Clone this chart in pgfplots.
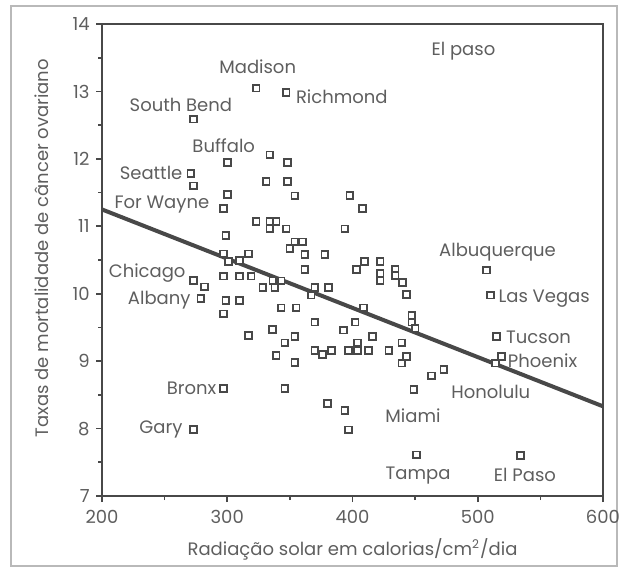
\documentclass[border=0pt]{standalone}
\usepackage{fontspec}
\setmainfont{Poppins}
\usepackage{pgfplots}
\pgfplotsset{compat=1.18}
\definecolor{txt}{HTML}{5E5E5E}
\definecolor{ink}{HTML}{484848}
\begin{document}
\fontsize{9pt}{11pt}\selectfont
\begin{tikzpicture}
\useasboundingbox (0pt,0pt) rectangle (312pt,284.5pt);
\draw[gray!55, line width=0.6pt] (5.5pt,1.5pt) rectangle (308.5pt,281.5pt);
\begin{axis}[
  at={(51pt,36.5pt)}, anchor=south west,
  width=250.5pt, height=236pt, scale only axis,
  xmin=200, xmax=600, ymin=7, ymax=14,
  xtick={200,300,...,600}, minor xtick={250,350,450,550},
  ytick={7,...,14}, minor ytick={7.5,8.5,...,13.5},
  tick pos=left, tick align=outside,
  major tick length=3pt, minor tick length=2pt,
  every tick/.style={ink, line width=0.8pt},
  axis line style={ink, line width=1pt},
  ticklabel style={font=\fontsize{9pt}{11pt}\selectfont, text=txt},
  xticklabel style={yshift=-1pt},
  /pgf/number format/assume math mode=true,
  xlabel={Radiação solar em calorias/cm\textsuperscript{2}/dia},
  ylabel={Taxas de mortalidade de câncer ovariano},
  label style={text=txt, font=\fontsize{9pt}{11pt}\selectfont},
  xlabel style={at={(axis description cs:0.5,-0.114)}, anchor=center},
  ylabel style={at={(axis description cs:-0.12,0.525)}, anchor=center},
  clip=false,
]
\addplot[only marks, mark=square*, mark size=1.7pt,
  mark options={fill=white, draw=ink, line width=0.9pt}] coordinates {
(323,13.05) (347,12.98) (273,12.59) (300,11.95) (334,12.06) (348,11.95)
(271,11.78) (273,11.6) (331,11.66) (348,11.66) (300,11.47) (354,11.45)
(398,11.46) (297,11.26) (323,11.07) (334,11.07) (339,11.07) (334,10.96)
(347,10.96) (394,10.96) (299,10.86) (354,10.77) (360,10.77) (350,10.67)
(362,10.58) (378,10.58) (297,10.59) (317,10.59) (301,10.48) (310,10.49)
(362,10.36) (403,10.36) (297,10.26) (310,10.26) (319,10.26) (273,10.2)
(282,10.1) (328.5,10.09) (338,10.09) (336.5,10.2) (343,10.19) (370,10.09)
(381,10.09) (367,9.98) (279,9.93) (299,9.9) (310,9.9) (297,9.7)
(343,9.79) (355,9.79) (370,9.58) (393,9.46) (402,9.58) (317,9.38)
(336,9.47) (354,9.37) (346,9.27) (370,9.16) (376,9.1) (383,9.16)
(397,9.16) (404,9.16) (404,9.27) (339,9.08) (354,8.98) (297,8.59)
(346,8.59) (380,8.37) (394,8.27) (397,7.98) (273,7.99) (408,11.26)
(409.6,10.48) (422,10.48) (422,10.3) (422,10.2) (434,10.36) (434,10.27)
(440,10.17) (443,9.99) (409,9.79) (447.5,9.68) (447.5,9.58) (450,9.48)
(416,9.37) (413,9.16) (429,9.16) (439.5,9.27) (443,9.07) (439.5,8.97)
(463,8.78) (473,8.88) (449,8.58) (451,7.61) (507,10.35) (510,9.98)
(515,9.37) (519,9.07) (514,8.97) (534,7.6)
};
\addplot[ink, line width=2pt] coordinates {(200,11.25) (600,8.33)};
\begin{scope}[every node/.style={inner sep=0pt, text=txt}]
\node[anchor=center] at (axis cs:324.3,13.36) {Madison};
\node[anchor=west] at (axis cs:354.6,12.92) {Richmond};
\node[anchor=center] at (axis cs:263,12.8) {South Bend};
\node[anchor=center] at (axis cs:297.2,12.2) {Buffalo};
\node[anchor=east] at (axis cs:264.5,11.79) {Seattle};
\node[anchor=center] at (axis cs:247.8,11.32) {For Wayne};
\node[anchor=east] at (axis cs:267,10.3) {Chicago};
\node[anchor=east] at (axis cs:271,9.91) {Albany};
\node[anchor=east] at (axis cs:291.6,8.59) {Bronx};
\node[anchor=east] at (axis cs:264.5,7.98) {Gary};
\node[anchor=center] at (axis cs:448.3,8.19) {Miami};
\node[anchor=center] at (axis cs:452.4,7.31) {Tampa};
\node[anchor=center] at (axis cs:537.7,7.31) {El Paso};
\node[anchor=center] at (axis cs:510.4,8.55) {Honolulu};
\node[anchor=west] at (axis cs:523.8,9.0) {Phoenix};
\node[anchor=west] at (axis cs:522.4,9.36) {Tucson};
\node[anchor=west] at (axis cs:516.3,9.93) {Las Vegas};
\node[anchor=center] at (axis cs:515.8,10.61) {Albuquerque};
\node[anchor=center] at (axis cs:488.6,13.6) {El paso};
\end{scope}
\end{axis}
\end{tikzpicture}
\end{document}
